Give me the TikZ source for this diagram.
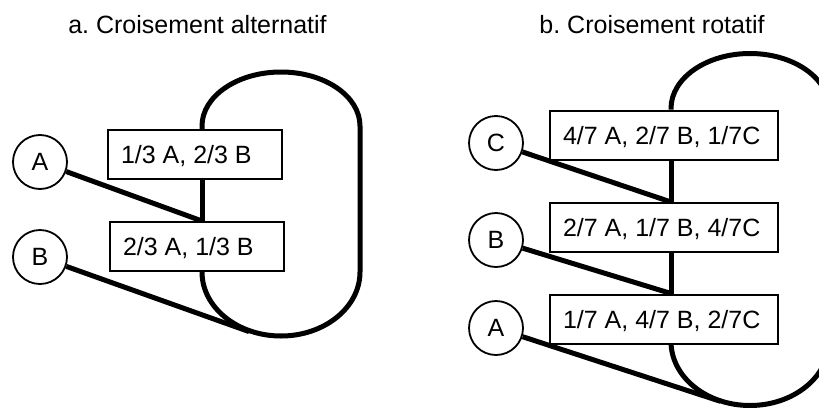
\documentclass[tikz,border=0pt]{standalone}
\usepackage{fontspec}
\setmainfont{Liberation Sans}
\usetikzlibrary{backgrounds}
\frenchspacing
\begin{document}
\begin{tikzpicture}[x=1pt,y=-1pt,
  lbl/.style={font=\fontsize{25}{30}\selectfont},
  src/.style={circle,draw,line width=1.8pt,fill=white,minimum size=54pt,inner sep=0pt,font=\fontsize{25}{30}\selectfont},
  mix/.style={rectangle,draw,line width=2pt,fill=white,minimum height=49pt,inner xsep=13pt,inner ysep=0pt,text depth=0pt,font=\fontsize{25}{30}\selectfont},
  pipe/.style={line width=5pt}]
\useasboundingbox (0,0) rectangle (819,407);
\clip (0,0) rectangle (819,407);

% titles
\node[lbl,anchor=base] (ta) at (197.5,33) {a. Croisement alternatif};
\node[lbl,anchor=base] (tb) at (652,33) {b. Croisement rotatif};

% ---- a ----
\node[src] (A1) at (40,162) {A};
\node[src] (B1) at (40,257) {B};
\node[mix] (m1) at (195,154.5) {\makebox[148pt][l]{1/3 A, 2/3 B}};
\node[mix] (m2) at (197,246.5) {\makebox[148pt][l]{2/3 A, 1/3 B}};
\coordinate (xa) at (202,0);
\coordinate (j1) at (m2.north -| xa);
\coordinate (t1) at (249.1,331.6);

% ---- b ----
\node[src] (C2) at (496,143) {C};
\node[src] (B2) at (496,240) {B};
\node[src] (A2) at (496,328) {A};
\node[mix] (r1) at (664,135) {\makebox[202pt][l]{4/7 A, 2/7 B, 1/7C}};
\node[mix] (r2) at (664,227.5) {\makebox[202pt][l]{2/7 A, 1/7 B, 4/7C}};
\node[mix] (r3) at (664,319) {\makebox[202pt][l]{1/7 A, 4/7 B, 2/7C}};
\coordinate (xb) at (671,0);
\coordinate (jC) at (r2.north -| xb);
\coordinate (jB) at (r3.north -| xb);
\coordinate (t2) at (720.4,401.3);

\begin{pgfonlayer}{background}
  % loop a
  \draw[pipe] (m1.north -| xa) -- ++(0,-3)
     arc[start angle=180,end angle=0,x radius=79pt,y radius=54pt]
     -- ++(0,146)
     arc[start angle=0,end angle=-180,x radius=79pt,y radius=64pt]
     -- (m2.south -| xa);
  \draw[pipe] (m1.south -| xa) -- (j1);
  \draw[pipe] (A1) -- (j1);
  \draw[pipe] (B1) -- (t1);
  % loop b
  \draw[pipe] (r1.north -| xb) -- ++(0,-1)
     arc[start angle=180,end angle=0,x radius=79pt,y radius=55pt]
     -- ++(0,233)
     arc[start angle=0,end angle=-180,x radius=79pt,y radius=64pt]
     -- (r3.south -| xb);
  \draw[pipe] (r1.south -| xb) -- (jC);
  \draw[pipe] (r2.south -| xb) -- (jB);
  \draw[pipe] (C2) -- (jC);
  \draw[pipe] (B2) -- (jB);
  \draw[pipe] (A2) -- (t2);
\end{pgfonlayer}
\end{tikzpicture}
\end{document}
